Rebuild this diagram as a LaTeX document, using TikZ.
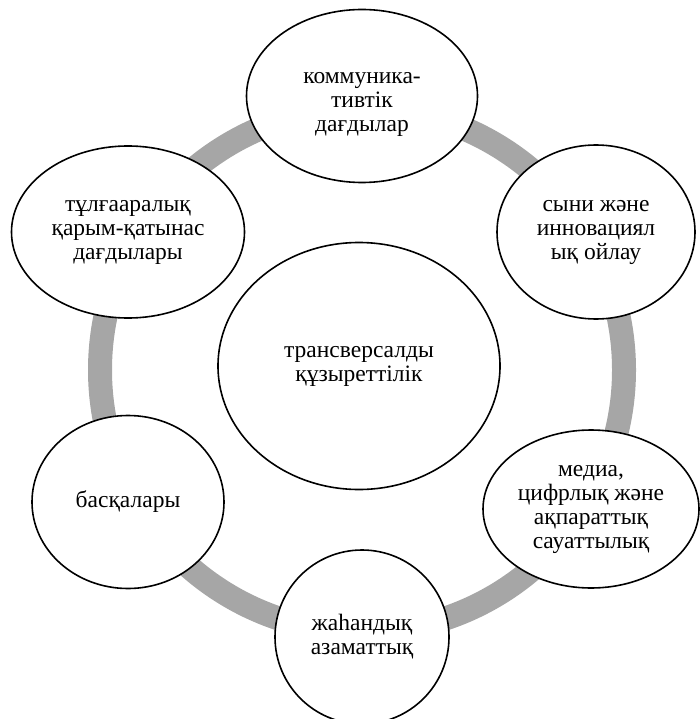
\documentclass[tikz,border=0pt]{standalone}
\usepackage{fontspec}
\setmainfont{Liberation Serif}
\usetikzlibrary{shapes.geometric}
\definecolor{ringgray}{RGB}{166,166,166}

\begin{document}
\begin{tikzpicture}[x=1pt,y=-1pt]
			\tikzstyle{every node}+=[inner sep=0pt]
			\tikzstyle{bubble}=[ellipse, draw=black, line width=1.6pt, fill=white, align=center, font=\fontsize{23.5}{24}\selectfont]
			\useasboundingbox (0,0) rectangle (699,719);
			\draw [ringgray, line width=24pt] (362,370) circle (262pt);
			\node [bubble, minimum width=282pt, minimum height=247pt] (core) at (359,366) {трансверсалды\\құзыреттілік};
			\node [bubble, minimum width=231pt, minimum height=173pt] (komm) at (362,96) {\rule{0pt}{28pt}коммуника-\\тивтік\\дағдылар};
			\node [bubble, minimum width=198pt, minimum height=174pt] (syni) at (596,232) {сыни және\\инновациял\\ық ойлау};
			\node [bubble, minimum width=216pt, minimum height=158pt] (media) at (591,509) {медиа,\\цифрлық және\\ақпараттық\\сауаттылық};
			\node [bubble, minimum width=174pt, minimum height=174pt] (jahan) at (362,637) {жаһандық\\азаматтық};
			\node [bubble, minimum width=192pt, minimum height=173pt] (baska) at (128,502) {басқалары};
			\node [bubble, minimum width=233pt, minimum height=172pt] (tulga) at (128,232) {тұлғааралық\\қарым-қатынас\\дағдылары};
		\end{tikzpicture}
\end{document}
